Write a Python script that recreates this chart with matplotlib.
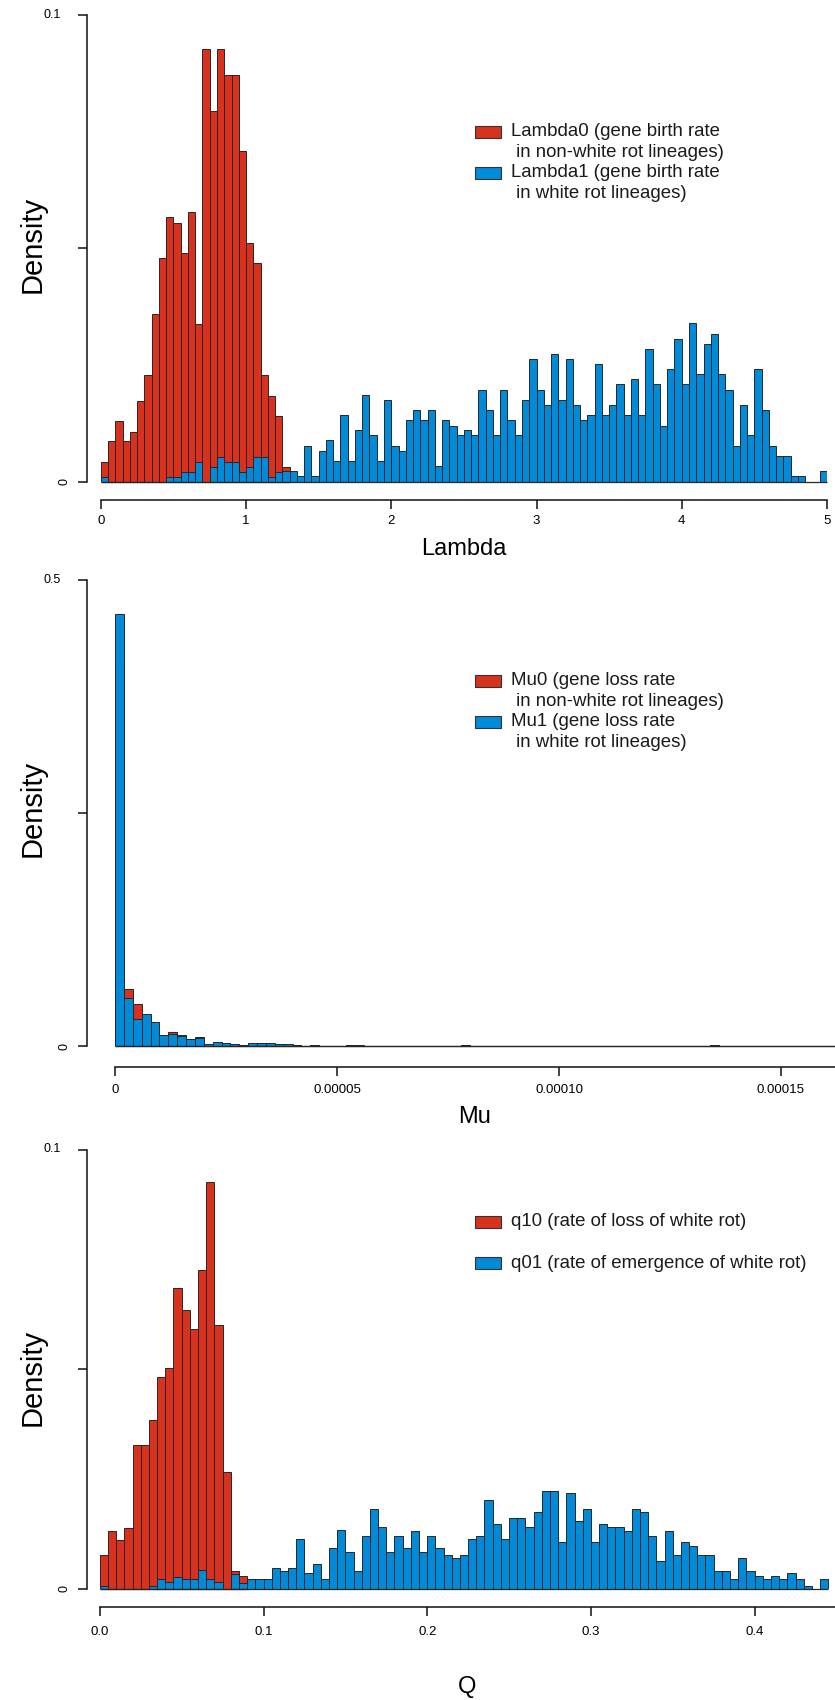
import numpy as np
import matplotlib
matplotlib.use("Agg")
import matplotlib.pyplot as plt
from matplotlib.patches import Rectangle

plt.rcParams['font.family'] = ['Liberation Sans', 'DejaVu Sans']

# ---------------- data ----------------
# Panel 1: Lambda (bin width 0.05, starting at 0)
lambda_bin = 0.05
lambda0 = [0.0042, 0.0086, 0.0130, 0.0086, 0.0107, 0.0173, 0.0228, 0.0359, 0.0479, 0.0567,
           0.0555, 0.0490, 0.0577, 0.0338, 0.0927, 0.0795, 0.0927, 0.0872, 0.0872, 0.0708,
           0.0512, 0.0468, 0.0228, 0.0184, 0.0140, 0.0031]
lambda1 = [0.0010, 0, 0, 0, 0, 0, 0, 0, 0, 0.0010,
           0.0010, 0.0020, 0.0020, 0.0042, 0, 0.0031, 0.0053, 0.0042, 0.0042, 0.0020,
           0.0031, 0.0053, 0.0053, 0.0010, 0.0020, 0.0022, 0.0022, 0.0011, 0.0077, 0.0011,
           0.0066, 0.0088, 0.0044, 0.0143, 0.0044, 0.0110, 0.0186, 0.0099, 0.0044, 0.0175,
           0.0077, 0.0066, 0.0132, 0.0153, 0.0132, 0.0153, 0.0033, 0.0132, 0.0120, 0.0099,
           0.0110, 0.0099, 0.0197, 0.0153, 0.0099, 0.0197, 0.0132, 0.0099, 0.0175, 0.0262,
           0.0197, 0.0164, 0.0274, 0.0175, 0.0262, 0.0164, 0.0132, 0.0143, 0.0252, 0.0143,
           0.0164, 0.0208, 0.0143, 0.0220, 0.0143, 0.0284, 0.0208, 0.0120, 0.0241, 0.0306,
           0.0208, 0.0339, 0.0230, 0.0295, 0.0317, 0.0230, 0.0197, 0.0077, 0.0164, 0.0099,
           0.0241, 0.0153, 0.0077, 0.0055, 0.0055, 0.0011, 0.0011, 0, 0, 0.0022]

# Panel 2: Mu (bin width 2e-6, starting at 0)
mu_bin = 2e-6
mu0 = [0.410, 0.0620, 0.0454, 0.0300, 0.0200, 0.0110, 0.0150, 0.0118, 0.0070, 0.0097,
       0.0020, 0.0030, 0.0032, 0.0020, 0.0018, 0.0020, 0.0020, 0.0020, 0.0020, 0.0020,
       0.0018, 0.0005, 0.0018, 0, 0.0005, 0.0005, 0.0018, 0.0008, 0.0005, 0,
       0.0005, 0, 0.0003, 0, 0, 0.0003, 0, 0, 0, 0.0018,
       0, 0, 0, 0, 0, 0, 0, 0, 0, 0,
       0, 0, 0, 0, 0, 0, 0, 0, 0, 0,
       0.0005, 0, 0, 0, 0, 0, 0, 0.0014, 0, 0,
       0, 0, 0.0005, 0, 0, 0, 0, 0, 0, 0,
       0, 0]
mu1 = [0.464, 0.0519, 0.0297, 0.0347, 0.0258, 0.0118, 0.0129, 0.0107, 0.0082, 0.0089,
       0.0025, 0.0043, 0.0032, 0.0025, 0.0010, 0.0032, 0.0032, 0.0032, 0.0025, 0.0029,
       0.0018, 0.0007, 0.0018, 0, 0.0007, 0.0007, 0.0018, 0.0010, 0.0007, 0,
       0.0007, 0, 0.0004, 0, 0, 0.0004, 0, 0, 0, 0.0018,
       0, 0, 0, 0, 0, 0, 0, 0, 0, 0,
       0, 0, 0, 0, 0, 0, 0, 0, 0, 0,
       0.0007, 0, 0, 0, 0, 0, 0, 0.0014, 0, 0,
       0, 0, 0.0007, 0, 0, 0, 0, 0, 0, 0,
       0, 0]

# Panel 3: Q (bin width 0.005, starting at 0)
q_bin = 0.005
q10 = [0.0076, 0.0132, 0.0111, 0.0139, 0.0327, 0.0327, 0.0384, 0.0481, 0.0502, 0.0684,
       0.0634, 0.0592, 0.0725, 0.0927, 0.0600, 0.0265, 0.0041, 0.0028]
q01 = [0.0006, 0, 0, 0, 0, 0, 0.0006, 0.0021, 0.0014, 0.0027,
       0.0021, 0.0021, 0.0042, 0.0021, 0.0014, 0, 0.0034, 0.0013, 0.0021, 0.0021,
       0.0021, 0.0048, 0.0041, 0.0048, 0.0112, 0.0035, 0.0056, 0.0021, 0.0092, 0.0133,
       0.0083, 0.0041, 0.0119, 0.0181, 0.0140, 0.0083, 0.0119, 0.0092, 0.0132, 0.0083,
       0.0119, 0.0092, 0.0077, 0.0070, 0.0077, 0.0112, 0.0119, 0.0202, 0.0147, 0.0112,
       0.0160, 0.0160, 0.0140, 0.0175, 0.0223, 0.0223, 0.0105, 0.0217, 0.0154, 0.0181,
       0.0105, 0.0147, 0.0140, 0.0140, 0.0132, 0.0181, 0.0175, 0.0119, 0.0063, 0.0132,
       0.0077, 0.0105, 0.0098, 0.0077, 0.0077, 0.0041, 0.0041, 0.0021, 0.0070, 0.0041,
       0.0028, 0.0021, 0.0028, 0.0021, 0.0035, 0.0021, 0.0007, 0, 0.0021]

lambda_xticks = [0, 1, 2, 3, 4, 5]
lambda_xlabels = ["0", "1", "2", "3", "4", "5"]
mu_xticks = [0, 0.00005, 0.00010, 0.00015]
mu_xlabels = ["0", "0.00005", "0.00010", "0.00015"]
q_xticks = [0.0, 0.1, 0.2, 0.3, 0.4]
q_xlabels = ["0.0", "0.1", "0.2", "0.3", "0.4"]

legend1 = ["Lambda0 (gene birth rate\n in non-white rot lineages)",
           "Lambda1 (gene birth rate\n in white rot lineages)"]
legend2 = ["Mu0 (gene loss rate\n in non-white rot lineages)",
           "Mu1 (gene loss rate\n in white rot lineages)"]
legend3 = ["q10 (rate of loss of white rot)",
           "q01 (rate of emergence of white rot)"]

RED = "#D8321F"
BLUE = "#008AD8"
EDGE = "#262626"

W, H = 835, 1700
fig = plt.figure(figsize=(W / 100, H / 100), dpi=100)


def fx(x):
    return x / W


def fy(y):
    return 1 - y / H


def px2pt(p):
    return p * 72 / 100


def make_panel(left, right, y0px, ytop_px, xlim, ylim, spine_x, spine_y_px,
               xticks, xlabels, yticks, ylabels, xbound, xpad):
    ax = fig.add_axes([fx(left), fy(y0px), (right - left) / W, (y0px - ytop_px) / H])
    ax.set_xlim(*xlim)
    ax.set_ylim(*ylim)
    for s in ["top", "right"]:
        ax.spines[s].set_visible(False)
    ax.spines["left"].set_position(("outward", px2pt(left - spine_x)))
    ax.spines["bottom"].set_position(("outward", px2pt(spine_y_px - y0px)))
    ax.spines["left"].set_bounds(ylim[0], ylim[1])
    ax.spines["bottom"].set_bounds(xbound[0], xbound[1])
    for s in ["left", "bottom"]:
        ax.spines[s].set_linewidth(1.1)
        ax.spines[s].set_color("#111111")
    ax.set_xticks(xticks)
    ax.set_xticklabels(xlabels)
    ax.set_yticks(yticks)
    ax.set_yticklabels([])
    ax.tick_params(axis="both", direction="out", length=6.5, width=1.1,
                   color="#111111")
    ax.tick_params(axis="x", pad=xpad, labelsize=9.5)
    ypix = {ylim[0]: y0px, ylim[1]: ytop_px}
    fig.text(fx(65), fy(ypix[ylim[0]]), ylabels[0], fontsize=9, rotation=90,
             ha="center", va="center")
    fig.text(fx(61), fy(ypix[ylim[1]]), ylabels[-1], fontsize=9,
             ha="right", va="center")
    return ax


def draw_hist(ax, start, bw, values, color):
    edges = start + bw * np.arange(len(values))
    ax.bar(edges, values, width=bw, align="edge", color=color,
           edgecolor=EDGE, linewidth=0.7)
    ax.hlines(0, edges[0], edges[-1] + bw, color=EDGE, linewidth=0.9,
              zorder=3, clip_on=False)


def legend(x_patch, entries):
    for yc, txt, col in entries:
        fig.patches.append(Rectangle((fx(x_patch), fy(yc + 6)), 26 / W, 12 / H,
                                     transform=fig.transFigure, facecolor=col,
                                     edgecolor="#333333", linewidth=0.8))
        lines = txt.split("\n")
        for i, ln in enumerate(lines):
            fig.text(fx(511), fy(yc + i * 21), ln, fontsize=13.4, ha="left",
                     va="center", color="#1a1a1a")


LABSIZE = 17
DENSIZE = 21

# ---------------- Panel 1 ----------------
ax1 = make_panel(100.8, 827, 481.5, 15, (0, 5), (0, 0.1), 86.8, 500,
                 lambda_xticks, lambda_xlabels, [0, 0.05, 0.1], ["0", "", "0.1"], (0, 5), 4.3)
draw_hist(ax1, 0.0, lambda_bin, lambda0, RED)
draw_hist(ax1, 0.0, lambda_bin, lambda1, BLUE)
fig.text(fx(464), fy(549), "Lambda", fontsize=LABSIZE, ha="center", va="center")
fig.text(fx(32.5), fy(244), "Density", fontsize=DENSIZE, ha="center", va="center", rotation=90)
legend(475, [(131.7, legend1[0], RED), (172.7, legend1[1], BLUE)])

# ---------------- Panel 2 ----------------
mu_xmax = 5e-5 * (835 - 115) / 222
ax2 = make_panel(115, 835, 1046.4, 580, (0, mu_xmax), (0, 0.5), 86.8, 1067,
                 mu_xticks, mu_xlabels, [0, 0.25, 0.5], ["0", "", "0.5"], (0, mu_xmax), 5.5)
draw_hist(ax2, 0.0, mu_bin, mu0, RED)
draw_hist(ax2, 0.0, mu_bin, mu1, BLUE)
fig.text(fx(475), fy(1117), "Mu", fontsize=LABSIZE, ha="center", va="center")
fig.text(fx(32.5), fy(808), "Density", fontsize=DENSIZE, ha="center", va="center", rotation=90)
legend(475, [(680.7, legend2[0], RED), (721.7, legend2[1], BLUE)])

# ---------------- Panel 3 ----------------
q_xmax = (835 - 99.8) / 1637
ax3 = make_panel(99.8, 835, 1588.6, 1149.5, (0, q_xmax), (0, 0.1), 86.8, 1607,
                 q_xticks, q_xlabels, [0, 0.05, 0.1], ["0", "", "0.1"], (0, q_xmax), 7.5)
draw_hist(ax3, 0.0, q_bin, q10, RED)
draw_hist(ax3, 0.0, q_bin, q01, BLUE)
fig.text(fx(467), fy(1687), "Q", fontsize=LABSIZE, ha="center", va="center")
fig.text(fx(32.5), fy(1377), "Density", fontsize=DENSIZE, ha="center", va="center", rotation=90)
legend(475, [(1221.7, legend3[0], RED), (1263.3, legend3[1], BLUE)])

fig.savefig("out.png", dpi=100, facecolor="white")
